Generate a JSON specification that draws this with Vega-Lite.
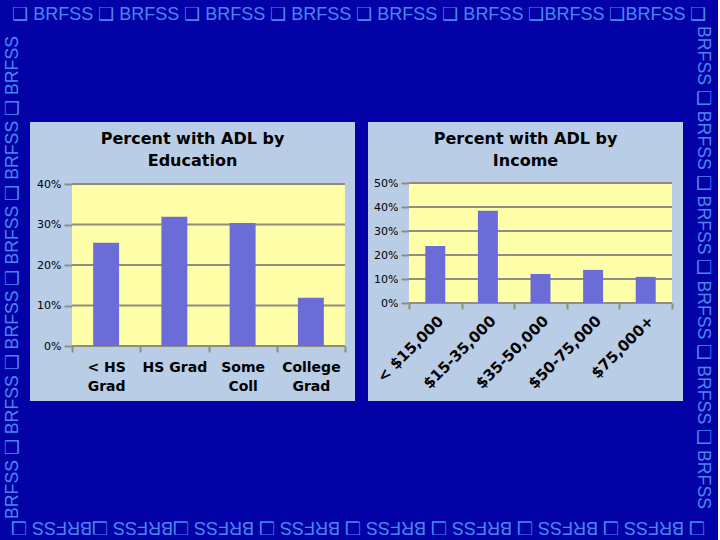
{
  "$schema": "https://vega.github.io/schema/vega-lite/v6.json",
  "background": "#0202A6",
  "padding": {"left": 4, "top": 6, "right": 6, "bottom": 5},
  "autosize": {"type": "pad"},
  "config": {"view": {"stroke": null}, "font": "DejaVu Sans"},
  "title": {"text": "❑ BRFSS ❑ BRFSS ❑ BRFSS ❑ BRFSS ❑ BRFSS ❑ BRFSS ❑BRFSS ❑BRFSS ❑", "anchor": "start", "frame": "bounds", "font": "Liberation Sans", "fontSize": 18, "fontWeight": "normal", "color": "#4A86F2", "offset": 2, "dx": 8},
  "vconcat": [
    {
      "title": {"text": "❑ BRFSS ❑ BRFSS ❑ BRFSS ❑ BRFSS ❑ BRFSS ❑ BRFSS ❑BRFSS ❑BRFSS ❑", "orient": "bottom", "angle": 180, "anchor": "middle", "font": "Liberation Sans", "fontSize": 18, "fontWeight": "normal", "color": "#4A86F2", "offset": 17},
      "spacing": 13,
      "hconcat": [
        {
          "title": {"text": "BRFSS ❑ BRFSS ❑ BRFSS ❑ BRFSS ❑ BRFSS ❑ BRFSS", "orient": "left", "angle": -90, "anchor": "middle", "font": "Liberation Sans", "fontSize": 17.7, "fontWeight": "normal", "color": "#4A86F2", "offset": 8, "dx": -16},
          "vconcat": [
            {
              "width": 325,
              "height": 279,
              "view": {"fill": "#BACDE6", "stroke": null},
              "title": {"text": ["Percent with ADL by", "Education"], "anchor": "middle", "offset": -47, "font": "DejaVu Sans", "fontSize": 16, "fontWeight": "bold", "color": "#000000", "lineHeight": 22},
              "data": {"values": [
                {"edu": "< HS Grad", "pct": 0.255},
                {"edu": "HS Grad", "pct": 0.319},
                {"edu": "Some Coll", "pct": 0.304},
                {"edu": "College Grad", "pct": 0.119}
              ]},
              "resolve": {"scale": {"x": "independent"}},
              "layer": [
                {
                  "data": {"values": [{}]},
                  "mark": {"type": "rect", "fill": "#FFFFAA"},
                  "encoding": {
                    "x": {"datum": 0, "type": "quantitative", "scale": {"domain": [0, 1], "range": [42, 315]}, "axis": null},
                    "x2": {"datum": 1},
                    "y": {"datum": 0, "type": "quantitative", "scale": {"domain": [0, 0.4], "range": [224, 62]}, "axis": {"orient": "left", "offset": -42, "domain": false, "grid": false, "ticks": true, "tickSize": 8, "tickWidth": 2, "tickColor": "#8E8E80", "labelPadding": 3, "labelFont": "DejaVu Sans", "labelFontSize": 11, "labelColor": "#000000", "format": ".0%", "values": [0, 0.1, 0.2, 0.3, 0.4], "title": null}},
                    "y2": {"datum": 0.4}
                  }
                },
                {
                  "data": {"values": [{"g": 0}, {"g": 0.1}, {"g": 0.2}, {"g": 0.3}, {"g": 0.4}]},
                  "mark": {"type": "rule", "color": "#8E8E80", "strokeWidth": 2},
                  "encoding": {
                    "x": {"datum": 0, "type": "quantitative", "scale": {"domain": [0, 1], "range": [42, 315]}, "axis": null},
                    "x2": {"datum": 1},
                    "y": {"field": "g", "type": "quantitative", "title": null}
                  }
                },
                {
                  "mark": {"type": "bar", "color": "#6C6CD8", "width": {"band": 0.38}},
                  "encoding": {
                    "x": {"field": "edu", "type": "nominal", "sort": null, "scale": {"type": "band", "range": [42, 315], "paddingInner": 0, "paddingOuter": 0},
                      "axis": {"orient": "bottom", "offset": -55, "domain": false, "ticks": true, "tickBand": "extent", "tickSize": 6, "tickWidth": 2, "tickColor": "#8E8E80", "labelAngle": 0, "labelFont": "DejaVu Sans", "labelFontWeight": "bold", "labelFontSize": 14, "labelColor": "#000000", "labelPadding": 8, "labelLineHeight": 19, "labelExpr": "datum.label == '< HS Grad' ? ['< HS', 'Grad'] : datum.label == 'Some Coll' ? ['Some', 'Coll'] : datum.label == 'College Grad' ? ['College', 'Grad'] : datum.label", "title": null}},
                    "y": {"field": "pct", "type": "quantitative", "title": null}
                  }
                }
              ]
            }
          ]
        },
        {
          "title": {"text": "BRFSS ❑ BRFSS ❑ BRFSS ❑ BRFSS ❑ BRFSS ❑ BRFSS", "orient": "right", "angle": 90, "anchor": "middle", "font": "Liberation Sans", "fontSize": 17.7, "fontWeight": "normal", "color": "#4A86F2", "offset": 11, "dx": 6},
          "vconcat": [
            {
              "width": 315,
              "height": 279,
              "view": {"fill": "#BACDE6", "stroke": null},
              "title": {"text": ["Percent with ADL by", "Income"], "anchor": "middle", "offset": -47, "font": "DejaVu Sans", "fontSize": 16, "fontWeight": "bold", "color": "#000000", "lineHeight": 22},
              "data": {"values": [
                {"inc": "< $15,000", "pct": 0.238},
                {"inc": "$15-35,000", "pct": 0.384},
                {"inc": "$35-50,000", "pct": 0.121},
                {"inc": "$50-75,000", "pct": 0.138},
                {"inc": "$75,000+", "pct": 0.109}
              ]},
              "resolve": {"scale": {"x": "independent"}},
              "layer": [
                {
                  "data": {"values": [{}]},
                  "mark": {"type": "rect", "fill": "#FFFFAA"},
                  "encoding": {
                    "x": {"datum": 0, "type": "quantitative", "scale": {"domain": [0, 1], "range": [41, 304]}, "axis": null},
                    "x2": {"datum": 1},
                    "y": {"datum": 0, "type": "quantitative", "scale": {"domain": [0, 0.5], "range": [181, 61]}, "axis": {"orient": "left", "offset": -41, "domain": false, "grid": false, "ticks": true, "tickSize": 8, "tickWidth": 2, "tickColor": "#8E8E80", "labelPadding": 3, "labelFont": "DejaVu Sans", "labelFontSize": 11, "labelColor": "#000000", "format": ".0%", "values": [0, 0.1, 0.2, 0.3, 0.4, 0.5], "title": null}},
                    "y2": {"datum": 0.5}
                  }
                },
                {
                  "data": {"values": [{"g": 0}, {"g": 0.1}, {"g": 0.2}, {"g": 0.3}, {"g": 0.4}, {"g": 0.5}]},
                  "mark": {"type": "rule", "color": "#8E8E80", "strokeWidth": 2},
                  "encoding": {
                    "x": {"datum": 0, "type": "quantitative", "scale": {"domain": [0, 1], "range": [41, 304]}, "axis": null},
                    "x2": {"datum": 1},
                    "y": {"field": "g", "type": "quantitative", "title": null}
                  }
                },
                {
                  "mark": {"type": "bar", "color": "#6C6CD8", "width": {"band": 0.38}},
                  "encoding": {
                    "x": {"field": "inc", "type": "nominal", "sort": null, "scale": {"type": "band", "range": [41, 304], "paddingInner": 0, "paddingOuter": 0},
                      "axis": {"orient": "bottom", "offset": -98, "domain": false, "ticks": true, "tickBand": "extent", "tickSize": 6, "tickWidth": 2, "tickColor": "#8E8E80", "labelAngle": -45, "labelFont": "DejaVu Sans", "labelFontWeight": "bold", "labelFontSize": 15, "labelColor": "#000000", "labelPadding": 4, "title": null}},
                    "y": {"field": "pct", "type": "quantitative", "title": null}
                  }
                }
              ]
            }
          ]
        }
      ]
    }
  ]
}
